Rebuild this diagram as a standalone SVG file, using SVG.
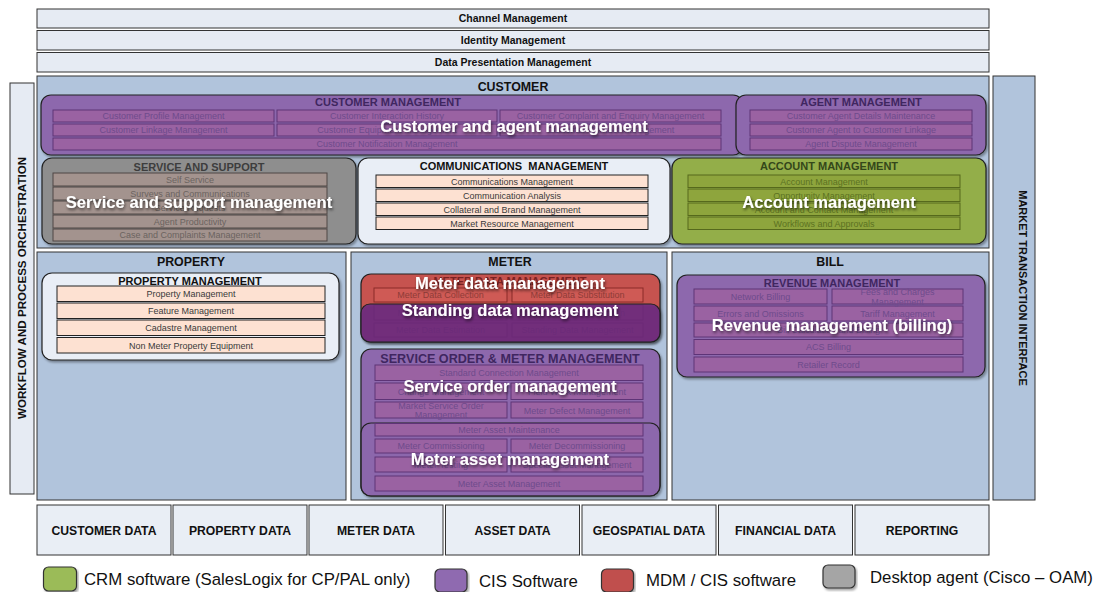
<svg xmlns="http://www.w3.org/2000/svg" width="1101" height="592" viewBox="0 0 1101 592">
  <defs>
    <filter id="boxShadow" x="-5%" y="-10%" width="112%" height="130%">
      <feDropShadow dx="1.5" dy="2" stdDeviation="1.2" flood-color="#000" flood-opacity="0.35"/>
    </filter>
    <filter id="labelShadow" x="-10%" y="-40%" width="120%" height="200%">
      <feDropShadow dx="1" dy="2" stdDeviation="1.6" flood-color="#000" flood-opacity="0.6"/>
    </filter>
    <style>
      text { font-family: "Liberation Sans", Arial, sans-serif; text-anchor: middle; }
      .bar { fill: #e6ebf3; stroke: #333; stroke-width: 1; }
      .panel { fill: #b1c4dc; stroke: #333; stroke-width: 1; }
      .cell { fill: #e9eef5; stroke: #333; stroke-width: 1; }
      .barTxt { font-size: 10.5px; font-weight: bold; fill: #111; }
      .panelTxt { font-size: 12.4px; font-weight: bold; fill: #111; }
      .cellTxt { font-size: 12.2px; font-weight: bold; fill: #111; }
      .vTxt { font-size: 11px; font-weight: bold; fill: #111; }
      .grp { stroke: #222; stroke-width: 1.2; filter: url(#boxShadow); }
      .purple { fill: #8d68ad; }
      .gray { fill: #8e8e8e; }
      .green { fill: #93ae4a; }
      .red { fill: #c6524f; }
      .light { fill: #e9eef6; }
      .grpTitle { font-size: 11px; font-weight: bold; white-space: pre; }
      .tPurple { fill: #3f2660; }
      .tGray { fill: #3d3d3d; }
      .tGreen { fill: #34471a; }
      .tBlack { fill: #111; }
      .tRed { fill: #7a2222; }
      .rowP { fill: #9a62a2; stroke: #5e3477; stroke-width: 1; }
      .rowG { fill: #a3938e; stroke: #4f4644; stroke-width: 1; }
      .rowA { fill: #8ea53d; stroke: #56691c; stroke-width: 1; }
      .rowC { fill: #fde1d2; stroke: #222; stroke-width: 1; }
      .rowR { fill: #cf5a55; stroke: #8a2b28; stroke-width: 1; }
      .row { font-size: 9px; }
      .rtP { fill: #6e4b8c; }
      .rtG { fill: #6b6360; }
      .rtA { fill: #5c7222; }
      .rtC { fill: #3a3a3a; }
      .rtR { fill: #8e3c38; }
      .over { font-size: 16.6px; font-weight: bold; fill: #fff; filter: url(#labelShadow); }
      .legTxt { font-size: 16.8px; fill: #111; text-anchor: start; }
      .swatch { stroke: #333; stroke-width: 1.2; filter: url(#boxShadow); }
    </style>
  </defs>

  <rect width="1101" height="592" fill="#fff"/>

  <!-- Horizontal service bars -->
  <g id="channel-management">
    <rect class="bar" x="37" y="9" width="952" height="19"/>
    <text class="barTxt" x="513" y="22">Channel Management</text>
  </g>
  <g id="identity-management">
    <rect class="bar" x="37" y="30.5" width="952" height="19.5"/>
    <text class="barTxt" x="513" y="44">Identity Management</text>
  </g>
  <g id="data-presentation-management">
    <rect class="bar" x="37" y="52.5" width="952" height="19.5"/>
    <text class="barTxt" x="513" y="66">Data Presentation Management</text>
  </g>

  <!-- Vertical side bars -->
  <g id="workflow-orchestration">
    <rect class="bar" x="10" y="83" width="24" height="411"/>
    <text class="vTxt" style="font-size:11.6px" transform="translate(26 288) rotate(-90)">WORKFLOW AND PROCESS ORCHESTRATION</text>
  </g>
  <g id="market-transaction-interface">
    <rect class="panel" x="993" y="76" width="42" height="424"/>
    <text class="vTxt" transform="translate(1019 288) rotate(90)">MARKET TRANSACTION INTERFACE</text>
  </g>

  <!-- CUSTOMER domain -->
  <g id="customer">
    <rect class="panel" x="37" y="76" width="952" height="172"/>
    <text class="panelTxt" x="513" y="91">CUSTOMER</text>
  </g>

  <g id="customer-management">
    <rect class="grp purple" x="41" y="95" width="702" height="60" rx="10"/>
    <text class="grpTitle tPurple" x="388" y="105.5">CUSTOMER MANAGEMENT</text>
    <rect class="rowP" x="53" y="110" width="221" height="12"/>
    <rect class="rowP" x="277" y="110" width="220" height="12"/>
    <rect class="rowP" x="500" y="110" width="221" height="12"/>
    <rect class="rowP" x="53" y="124" width="221" height="12"/>
    <rect class="rowP" x="277" y="124" width="220" height="12"/>
    <rect class="rowP" x="500" y="124" width="221" height="12"/>
    <rect class="rowP" x="53" y="138" width="668" height="12"/>
    <text class="row rtP" x="163.5" y="119.3">Customer Profile Management</text>
    <text class="row rtP" x="387" y="119.3">Customer Interaction History</text>
    <text class="row rtP" x="610.5" y="119.3">Customer Complaint and Enquiry Management</text>
    <text class="row rtP" x="163.5" y="133.3">Customer Linkage Management</text>
    <text class="row rtP" x="387" y="133.3">Customer Equipment Management</text>
    <text class="row rtP" x="610.5" y="133.3">Customer Contact Management</text>
    <text class="row rtP" x="387" y="147.3">Customer Notification Management</text>
  </g>

  <g id="agent-management">
    <rect class="grp purple" x="736" y="95" width="250" height="60" rx="10"/>
    <text class="grpTitle tPurple" x="861" y="105.5">AGENT MANAGEMENT</text>
    <rect class="rowP" x="750" y="110" width="222" height="12"/>
    <rect class="rowP" x="750" y="124" width="222" height="12"/>
    <rect class="rowP" x="750" y="138" width="222" height="12"/>
    <text class="row rtP" x="861" y="119.3">Customer Agent Details Maintenance</text>
    <text class="row rtP" x="861" y="133.3">Customer Agent to Customer Linkage</text>
    <text class="row rtP" x="861" y="147.3">Agent Dispute Management</text>
  </g>
  <text class="over" x="514" y="132">Customer and agent management</text>

  <g id="service-and-support">
    <rect class="grp gray" x="42" y="158" width="314" height="86" rx="10"/>
    <text class="grpTitle tGray" x="199" y="170.5">SERVICE AND SUPPORT</text>
    <rect class="rowG" x="53" y="173" width="274" height="13"/>
    <rect class="rowG" x="53" y="187" width="274" height="13"/>
    <rect class="rowG" x="53" y="201" width="274" height="13"/>
    <rect class="rowG" x="53" y="215" width="274" height="13"/>
    <rect class="rowG" x="53" y="229" width="274" height="12"/>
    <text class="row rtG" x="190" y="182.5">Self Service</text>
    <text class="row rtG" x="190" y="196.5">Surveys and Communications</text>
    <text class="row rtG" x="190" y="210.5">Service Requests</text>
    <text class="row rtG" x="190" y="224.5">Agent Productivity</text>
    <text class="row rtG" x="190" y="238">Case and Complaints Management</text>
    <text class="over" x="199" y="208">Service and support management</text>
  </g>

  <g id="communications-management">
    <rect class="grp light" x="358" y="158" width="312" height="86" rx="10"/>
    <text class="grpTitle tBlack" x="514" y="170" xml:space="preserve">COMMUNICATIONS  MANAGEMENT</text>
    <rect class="rowC" x="376" y="175" width="272" height="12.5"/>
    <rect class="rowC" x="376" y="189" width="272" height="12.5"/>
    <rect class="rowC" x="376" y="203" width="272" height="12.5"/>
    <rect class="rowC" x="376" y="217" width="272" height="12.5"/>
    <text class="row rtC" x="512" y="184.5">Communications Management</text>
    <text class="row rtC" x="512" y="198.5">Communication Analysis</text>
    <text class="row rtC" x="512" y="212.5">Collateral and Brand Management</text>
    <text class="row rtC" x="512" y="226.5">Market Resource Management</text>
  </g>

  <g id="account-management">
    <rect class="grp green" x="672" y="158" width="314" height="86" rx="10"/>
    <text class="grpTitle tGreen" x="829" y="170">ACCOUNT MANAGEMENT</text>
    <rect class="rowA" x="688" y="175" width="272" height="12.5"/>
    <rect class="rowA" x="688" y="189" width="272" height="12.5"/>
    <rect class="rowA" x="688" y="203" width="272" height="12.5"/>
    <rect class="rowA" x="688" y="217" width="272" height="12.5"/>
    <text class="row rtA" x="824" y="184.5">Account Management</text>
    <text class="row rtA" x="824" y="198.5">Opportunity Management</text>
    <text class="row rtA" x="824" y="212.5">Account and Contact Management</text>
    <text class="row rtA" x="824" y="226.5">Workflows and Approvals</text>
    <text class="over" x="829" y="207.5">Account management</text>
  </g>

  <!-- PROPERTY domain -->
  <g id="property">
    <rect class="panel" x="37" y="252" width="309" height="248"/>
    <text class="panelTxt" x="191" y="266">PROPERTY</text>
  </g>
  <g id="property-management">
    <rect class="grp light" x="42" y="273" width="297" height="87" rx="10"/>
    <text class="grpTitle tBlack" x="190" y="285">PROPERTY MANAGEMENT</text>
    <rect class="rowC" x="57" y="286" width="268" height="15.5"/>
    <rect class="rowC" x="57" y="303" width="268" height="15.5"/>
    <rect class="rowC" x="57" y="320" width="268" height="15.5"/>
    <rect class="rowC" x="57" y="337.5" width="268" height="15.5"/>
    <text class="row rtC" x="191" y="297">Property Management</text>
    <text class="row rtC" x="191" y="314">Feature Management</text>
    <text class="row rtC" x="191" y="331">Cadastre Management</text>
    <text class="row rtC" x="191" y="348.5">Non Meter Property Equipment</text>
  </g>

  <!-- METER domain -->
  <g id="meter">
    <rect class="panel" x="351" y="252" width="316" height="248"/>
    <text class="panelTxt" x="510" y="266">METER</text>
  </g>

  <g id="meter-data-management">
    <rect class="grp red" x="361" y="274" width="299" height="68" rx="10"/>
    <text class="grpTitle tRed" x="510" y="285">METER DATA MANAGEMENT</text>
    <rect class="rowR" x="374" y="288" width="133" height="14"/>
    <rect class="rowR" x="512" y="288" width="131" height="14"/>
    <rect class="rowR" x="374" y="305" width="133" height="15"/>
    <rect class="rowR" x="512" y="305" width="131" height="15"/>
    <rect class="rowR" x="374" y="323" width="133" height="14"/>
    <rect class="rowR" x="512" y="323" width="131" height="14"/>
    <text class="row rtR" x="440.5" y="298">Meter Data Collection</text>
    <text class="row rtR" x="577.5" y="298">Meter Data Substitution</text>
    <text class="row rtR" x="440.5" y="315.5">Meter Data Validation</text>
    <text class="row rtR" x="577.5" y="315.5">Meter Data Aggregation</text>
    <text class="row rtR" x="440.5" y="333">Meter Data Estimation</text>
    <text class="row rtR" x="577.5" y="333">Standing Data Management</text>
  </g>
  <g id="standing-data-management">
    <rect x="361" y="304" width="299" height="38" rx="9" fill="#6a2b82" fill-opacity="0.85" stroke="#222" stroke-width="1.2" filter="url(#boxShadow)"/>
  </g>
  <text class="over" x="510" y="288.5">Meter data management</text>
  <text class="over" x="510" y="316">Standing data management</text>

  <g id="service-order-management">
    <rect class="grp purple" x="361" y="349" width="299" height="147" rx="10"/>
    <text class="tPurple" x="510" y="363" style="font-size:12.6px;font-weight:bold">SERVICE ORDER &amp; METER MANAGEMENT</text>
    <rect class="rowP" x="375" y="365" width="268" height="15.5"/>
    <rect class="rowP" x="375" y="383" width="132" height="16.5"/>
    <rect class="rowP" x="511" y="383" width="132" height="16.5"/>
    <rect class="rowP" x="375" y="402" width="132" height="16"/>
    <rect class="rowP" x="511" y="402" width="132" height="16"/>
    <text class="row rtP" x="509" y="376">Standard Connection Management</text>
    <text class="row rtP" x="441" y="394.5">Change Management</text>
    <text class="row rtP" x="577" y="394.5">Field Work Management</text>
    <text class="row rtP" x="441" y="409">Market Service Order</text>
    <text class="row rtP" x="441" y="418">Management</text>
    <text class="row rtP" x="577" y="413.5">Meter Defect Management</text>
  </g>
  <g id="meter-asset-management">
    <rect x="361" y="423" width="299" height="73" rx="10" fill="#8d68ad" fill-opacity="0.35" stroke="#222" stroke-width="1.2"/>
    <rect class="rowP" x="375" y="423.5" width="268" height="12.5"/>
    <rect class="rowP" x="375" y="439" width="132" height="14"/>
    <rect class="rowP" x="511" y="439" width="132" height="14"/>
    <rect class="rowP" x="375" y="457" width="132" height="15"/>
    <rect class="rowP" x="511" y="457" width="132" height="15"/>
    <rect class="rowP" x="375" y="476" width="268" height="15"/>
    <text class="row rtP" x="509" y="432.8">Meter Asset Maintenance</text>
    <text class="row rtP" x="441" y="449">Meter Commissioning</text>
    <text class="row rtP" x="577" y="449">Meter Decommissioning</text>
    <text class="row rtP" x="441" y="467.5">Meter Testing</text>
    <text class="row rtP" x="577" y="467.5">Special Asset Management</text>
    <text class="row rtP" x="509" y="486.5">Meter Asset Management</text>
  </g>
  <text class="over" x="510" y="392">Service order management</text>
  <text class="over" x="510" y="465">Meter asset management</text>

  <!-- BILL domain -->
  <g id="bill">
    <rect class="panel" x="672" y="252" width="317" height="248"/>
    <text class="panelTxt" x="830" y="266">BILL</text>
  </g>
  <g id="revenue-management">
    <rect class="grp purple" x="677" y="275" width="308" height="102" rx="10"/>
    <text class="grpTitle tPurple" x="832" y="286.5">REVENUE MANAGEMENT</text>
    <rect class="rowP" x="694" y="289" width="133" height="15"/>
    <rect class="rowP" x="832" y="289" width="131" height="15"/>
    <rect class="rowP" x="694" y="306" width="133" height="15"/>
    <rect class="rowP" x="832" y="306" width="131" height="15"/>
    <rect class="rowP" x="694" y="323" width="269" height="14"/>
    <rect class="rowP" x="694" y="339.5" width="269" height="15"/>
    <rect class="rowP" x="694" y="357" width="269" height="15"/>
    <text class="row rtP" x="760.5" y="299.5">Network Billing</text>
    <text class="row rtP" x="897.5" y="294.5">Fees and Charges</text>
    <text class="row rtP" x="897.5" y="304.5">Management</text>
    <text class="row rtP" x="760.5" y="316.5">Errors and Omissions</text>
    <text class="row rtP" x="897.5" y="316.5">Tariff Management</text>
    <text class="row rtP" x="828.5" y="333">Bill Calculation and Billing</text>
    <text class="row rtP" x="828.5" y="350">ACS Billing</text>
    <text class="row rtP" x="828.5" y="367.5">Retailer Record</text>
    <text class="over" x="832" y="331">Revenue management (billing)</text>
  </g>

  <!-- Data layer -->
  <g id="customer-data">
    <rect class="cell" x="37" y="505" width="134" height="50"/>
    <text class="cellTxt" x="104" y="534.5">CUSTOMER DATA</text>
  </g>
  <g id="property-data">
    <rect class="cell" x="173" y="505" width="134" height="50"/>
    <text class="cellTxt" x="240" y="534.5">PROPERTY DATA</text>
  </g>
  <g id="meter-data">
    <rect class="cell" x="309" y="505" width="134" height="50"/>
    <text class="cellTxt" x="376" y="534.5">METER DATA</text>
  </g>
  <g id="asset-data">
    <rect class="cell" x="445.5" y="505" width="134" height="50"/>
    <text class="cellTxt" x="512.5" y="534.5">ASSET DATA</text>
  </g>
  <g id="geospatial-data">
    <rect class="cell" x="582" y="505" width="134" height="50"/>
    <text class="cellTxt" x="649" y="534.5">GEOSPATIAL DATA</text>
  </g>
  <g id="financial-data">
    <rect class="cell" x="718.5" y="505" width="134" height="50"/>
    <text class="cellTxt" x="785.5" y="534.5">FINANCIAL DATA</text>
  </g>
  <g id="reporting">
    <rect class="cell" x="855" y="505" width="134" height="50"/>
    <text class="cellTxt" x="922" y="534.5">REPORTING</text>
  </g>

  <!-- No connectors in this architecture map -->
  <g id="connectors"/>

  <!-- Legend -->
  <g id="legend">
    <rect class="swatch" x="43.5" y="567" width="33" height="24" rx="5" fill="#9bbb59"/>
    <text class="legTxt" x="84" y="585">CRM software (SalesLogix for CP/PAL only)</text>
    <rect class="swatch" x="435" y="569" width="32" height="23" rx="5" fill="#8f6bb0"/>
    <text class="legTxt" x="479" y="587">CIS Software</text>
    <rect class="swatch" x="601.5" y="569" width="32" height="23" rx="5" fill="#c0504d"/>
    <text class="legTxt" x="646" y="586">MDM / CIS software</text>
    <rect class="swatch" x="823" y="565" width="32" height="23" rx="5" fill="#a5a5a5"/>
    <text class="legTxt" x="870" y="583">Desktop agent (Cisco – OAM)</text>
  </g>
</svg>
